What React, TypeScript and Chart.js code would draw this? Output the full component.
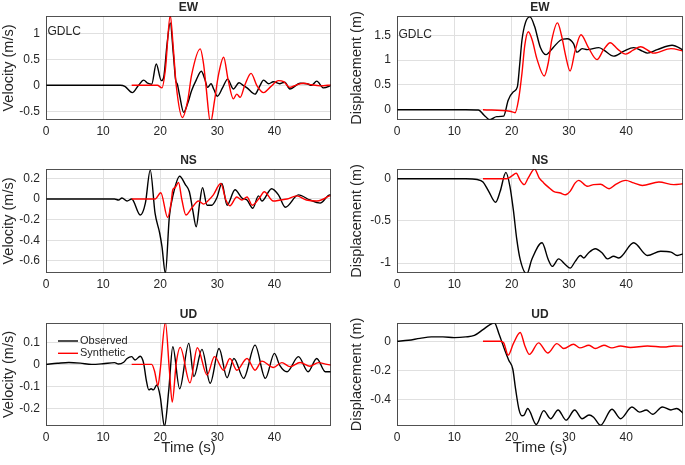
import React, { useEffect, useRef } from "react";
import { Chart, registerables } from "chart.js";

Chart.register(...registerables);

type Pt = [number, number];

// ---- shared axis data ----
const xTicks = [0, 10, 20, 30, 40];
const xMin = 0;
const xMax = 49.9;
const seriesNames = ["Observed", "Synthetic"];
const stationName = "GDLC";
const componentTitles = ["EW", "NS", "UD"];
const velLabel = "Velocity (m/s)";
const dispLabel = "Displacement (m)";
const timeLabel = "Time (s)";

// ---- EW velocity ----
const ewVelObs: Pt[] = [[0,0],[10,0],[13,0],[13.8,-0.02],[15.1,-0.14],[16.2,0.0],[17.1,0.1],[17.8,0.04],[18.5,0.02],[19.3,0.41],[20.2,0.09],[20.6,0.15],[21.2,0.8],[21.75,1.2],[22.3,0.6],[22.7,0.1],[23.0,0.02],[23.4,-0.2],[24.1,-0.52],[24.8,-0.35],[25.5,-0.1],[26.3,0.1],[27.2,0.27],[27.8,0.12],[28.3,-0.04],[28.9,0.03],[29.4,-0.08],[30.0,-0.21],[30.9,-0.05],[31.8,0.12],[32.8,-0.07],[33.8,0.05],[34.5,0.0],[35.2,-0.05],[36.6,-0.17],[37.4,-0.02],[38.1,0.1],[39.0,0.03],[39.8,0.07],[40.9,0.03],[41.8,0.06],[42.7,-0.07],[44.5,0.04],[45.7,0.03],[46.5,0.0],[47.4,0.08],[48.6,-0.05],[50,0]];
const ewVelSyn: Pt[] = [[15,0],[19.5,0],[20.3,-0.05],[20.9,0.3],[21.75,1.34],[22.3,0.7],[22.8,0.0],[23.9,-0.62],[24.8,-0.3],[25.5,0.2],[27.0,0.7],[27.6,0.4],[28.0,0.0],[28.8,-0.72],[29.5,-0.3],[30.2,0.2],[31.1,0.54],[31.9,0.1],[32.8,-0.26],[33.4,-0.17],[34.0,-0.23],[34.8,0.0],[35.9,0.23],[36.9,0.0],[38.1,-0.14],[39.3,-0.03],[40.7,0.09],[41.6,0.07],[42.7,-0.04],[43.9,0.01],[45.1,0.04],[46.5,0.01],[48.0,-0.01],[50,0.01]];
const ewVelRange = [-0.667, 1.333];
const ewVelTicks = [-0.5, 0, 0.5, 1];

// ---- EW displacement ----
const ewDispObs: Pt[] = [[0,0],[12,0],[14.2,-0.005],[15.2,-0.11],[16.2,-0.2],[17.4,-0.14],[18.6,-0.13],[19.4,0.19],[20.3,0.36],[21.0,0.46],[21.4,0.9],[21.8,1.4],[22.4,1.75],[23.2,1.87],[24.0,1.68],[25.0,1.26],[26.0,1.11],[27.3,1.26],[28.5,1.4],[29.7,1.43],[30.8,1.33],[31.4,1.16],[32.3,1.23],[33.2,1.21],[35.2,1.25],[36.1,1.2],[37.8,1.08],[39.6,1.18],[41.3,1.25],[42.8,1.18],[43.7,1.14],[45.4,1.21],[48.0,1.3],[50,1.2]];
const ewDispSyn: Pt[] = [[15,0],[19.7,-0.03],[20.6,-0.06],[21.2,0.2],[21.8,0.73],[22.3,1.3],[22.9,1.57],[23.6,1.4],[24.4,1.03],[25.7,0.68],[26.4,0.95],[27.0,1.4],[28.0,1.75],[28.7,1.5],[29.4,1.1],[30.2,0.78],[31.1,1.2],[32.1,1.51],[33.4,1.25],[34.9,1.01],[36.0,1.2],[37.2,1.35],[38.5,1.22],[39.9,1.12],[41.2,1.2],[42.5,1.27],[44.8,1.14],[47.8,1.23],[50,1.18]];
const ewDispRange = [-0.207, 1.888];
const ewDispTicks = [0, 0.5, 1, 1.5];

// ---- NS velocity ----
const nsVelObs: Pt[] = [[0,0],[12,0],[12.7,-0.01],[13.3,0.01],[14.2,-0.02],[15.0,0.0],[16.5,-0.155],[17.4,-0.04],[18.25,0.28],[19.1,-0.14],[19.9,-0.33],[20.3,-0.46],[20.9,-0.72],[21.6,-0.17],[22.3,0.05],[23.4,0.22],[24.4,0.14],[25.1,0.07],[25.7,-0.11],[26.3,-0.27],[26.9,-0.04],[27.4,0.11],[28.2,-0.06],[29.0,-0.06],[29.9,0.01],[30.8,0.15],[31.7,-0.06],[33.1,0.09],[34.3,0.01],[35.2,-0.01],[36.2,-0.09],[37.2,0.03],[37.8,-0.02],[39.5,0.1],[40.7,0.04],[41.9,-0.08],[44.2,0.04],[46.2,-0.01],[48.0,-0.04],[49.7,0.04],[50,0.035]];
const nsVelSyn: Pt[] = [[15,0],[19.1,0],[20.1,0.06],[21.3,-0.18],[21.9,-0.04],[22.2,0.09],[22.6,0.11],[23.2,0.16],[23.8,-0.01],[24.5,-0.155],[25.5,-0.09],[26.7,-0.02],[27.6,-0.05],[28.5,-0.01],[29.3,0.04],[30.6,0.15],[31.5,-0.01],[32.2,-0.065],[33.4,0.02],[34.3,-0.01],[35.2,0.02],[36.1,-0.06],[37.5,0.02],[38.2,0.07],[39.8,-0.02],[41.0,-0.01],[42.2,0.0],[43.9,0.03],[45.6,-0.01],[47.4,-0.02],[48.6,0],[49.7,0.03],[50,0.03]];
const nsVelRange = [-0.718, 0.291];
const nsVelTicks = [-0.6, -0.4, -0.2, 0, 0.2];

// ---- NS displacement ----
const nsDispObs: Pt[] = [[0,0],[10,0],[12,0],[14,-0.01],[15,-0.04],[16,-0.15],[17.2,-0.28],[18,-0.15],[19,0.075],[19.7,-0.09],[20.3,-0.37],[20.9,-0.72],[21.5,-0.96],[22.65,-1.13],[23.5,-0.96],[25.3,-0.76],[26.4,-0.96],[27.1,-1.04],[28.2,-0.95],[29.4,-1.02],[30.2,-1.06],[31.1,-0.98],[32,-0.91],[32.6,-0.94],[33.4,-0.88],[34.6,-0.83],[35.8,-0.88],[36.7,-0.95],[37.8,-0.92],[38.7,-0.94],[41.3,-0.76],[43.7,-0.91],[46,-0.86],[47.8,-0.87],[48.9,-0.91],[50,-0.89]];
const nsDispSyn: Pt[] = [[15,0],[19.1,0],[20,0.03],[20.8,0.065],[21.5,-0.02],[22.2,-0.07],[22.9,0.01],[24,0.115],[24.8,0.01],[25.6,-0.05],[26.4,-0.1],[27.3,-0.15],[28.5,-0.17],[29.4,-0.19],[30.2,-0.15],[31.1,-0.05],[31.7,-0.02],[33.2,-0.09],[34.3,-0.07],[35.5,-0.065],[37,-0.12],[38.1,-0.07],[39.9,-0.02],[41.3,-0.05],[42.8,-0.08],[45.7,-0.04],[48.3,-0.07],[50,-0.06]];
const nsDispRange = [-1.118, 0.115];
const nsDispTicks = [-1, -0.5, 0];

// ---- UD velocity ----
const udVelObs: Pt[] = [[0,0],[2,0.005],[4,0.009],[6,0.006],[8,0.0],[10,0.003],[12,0.008],[12.7,0.002],[13.6,0.01],[14.2,0.027],[15,0.035],[15.6,0.02],[16.5,0.037],[17.1,0.005],[17.55,-0.07],[18,-0.115],[18.4,-0.11],[18.8,-0.115],[19.4,-0.093],[20,-0.145],[20.75,-0.28],[21.5,-0.115],[22.2,0.08],[23.4,-0.11],[25,0.095],[25.9,-0.055],[27.3,0.068],[28.75,-0.085],[30.3,0.072],[31.7,-0.06],[32.9,0.027],[34.6,-0.063],[36.6,0.087],[38.4,-0.063],[40,0.05],[40.9,-0.003],[42.2,-0.033],[44.2,0.035],[45.9,-0.033],[47.4,0.027],[48.9,-0.033],[50,-0.033]];
const udVelSyn: Pt[] = [[15,0],[18.5,0],[19.0,-0.03],[19.6,-0.096],[20,-0.025],[20.9,0.19],[21.6,-0.025],[22.1,-0.17],[22.8,0.005],[23.5,0.077],[25.2,-0.083],[26.5,0.075],[28.2,-0.048],[29.5,0.035],[31.1,-0.026],[32.2,0.027],[33.4,-0.026],[35.2,0.027],[36.6,-0.026],[37.8,0.015],[39.8,-0.014],[41.3,0.008],[42.7,-0.01],[44.5,0.009],[46.2,-0.008],[47.7,0.008],[49.2,0],[50,-0.003]];
const udVelRange = [-0.278, 0.187];
const udVelTicks = [-0.2, -0.1, 0, 0.1];

// ---- UD displacement ----
const udDispObs: Pt[] = [[0,0],[2,0.007],[4,0.02],[6,0.03],[8,0.03],[10,0.025],[12,0.03],[13.5,0.04],[15,0.08],[16.3,0.116],[17,0.127],[17.8,0.05],[18.8,-0.06],[19.5,-0.13],[20.2,-0.19],[20.7,-0.33],[21.3,-0.47],[21.8,-0.51],[22.2,-0.505],[22.8,-0.46],[24.3,-0.57],[25.6,-0.475],[26.8,-0.53],[28.1,-0.47],[29.5,-0.54],[31,-0.47],[32.3,-0.53],[33.5,-0.505],[34.3,-0.52],[35.5,-0.575],[37.5,-0.465],[39,-0.53],[41,-0.45],[42.3,-0.485],[43.5,-0.47],[44.6,-0.5],[46.3,-0.45],[47.8,-0.47],[48.8,-0.46],[50,-0.495]];
const udDispSyn: Pt[] = [[15,0],[18,0],[18.6,-0.01],[19.4,-0.095],[20.3,-0.016],[21.5,0.06],[22.3,-0.03],[23.1,-0.09],[24.7,-0.011],[26.3,-0.08],[27.9,-0.016],[29.1,-0.05],[30.8,-0.02],[31.9,-0.045],[33.5,-0.027],[34.6,-0.05],[36.1,-0.027],[37.5,-0.045],[39,-0.032],[40.7,-0.043],[43.7,-0.032],[46.6,-0.039],[48.3,-0.032],[50,-0.034]];
const udDispRange = [-0.58, 0.125];
const udDispTicks = [-0.4, -0.2, 0];

// ---- styling ----
const FONT = '"Liberation Sans", Arial, Helvetica, sans-serif';
const TEXT = "#262626";
const GRID = "#e0e0e0";
const OBS_COLOR = "#000000";
const SYN_COLOR = "#ff0000";

interface Panel {
  title: string;
  yLabel: string;
  obs: Pt[];
  syn: Pt[];
  range: number[];
  yTicks: number[];
  station?: boolean;
  legend?: boolean;
  xLabel?: boolean;
  left: number; top: number; width: number; height: number;
  padTop: number; padRight: number; yAxisW: number; xAxisH: number;
  yTitlePad: number; stationDy: number;
}

const colL = { left: 0, width: 340, padRight: 9, yAxisW: 46, yTitlePad: 0 };
const colR = { left: 340, width: 345, padRight: 2, yAxisW: 57, yTitlePad: 8 };
const row1 = { top: 0, height: 150, padTop: 16, xAxisH: 30 };
const row2 = { top: 150, height: 150, padTop: 19, xAxisH: 27 };
const row3 = { top: 300, height: 165, padTop: 23, xAxisH: 39 };

const panels: Panel[] = [
  { title: componentTitles[0], yLabel: velLabel, obs: ewVelObs, syn: ewVelSyn, range: ewVelRange, yTicks: ewVelTicks, station: true, ...colL, ...row1, stationDy: 16 },
  { title: componentTitles[0], yLabel: dispLabel, obs: ewDispObs, syn: ewDispSyn, range: ewDispRange, yTicks: ewDispTicks, station: true, ...colR, ...row1, stationDy: 19 },
  { title: componentTitles[1], yLabel: velLabel, obs: nsVelObs, syn: nsVelSyn, range: nsVelRange, yTicks: nsVelTicks, ...colL, ...row2, stationDy: 0 },
  { title: componentTitles[1], yLabel: dispLabel, obs: nsDispObs, syn: nsDispSyn, range: nsDispRange, yTicks: nsDispTicks, ...colR, ...row2, stationDy: 0 },
  { title: componentTitles[2], yLabel: velLabel, obs: udVelObs, syn: udVelSyn, range: udVelRange, yTicks: udVelTicks, legend: true, xLabel: true, ...colL, ...row3, stationDy: 0 },
  { title: componentTitles[2], yLabel: dispLabel, obs: udDispObs, syn: udDispSyn, range: udDispRange, yTicks: udDispTicks, xLabel: true, ...colR, ...row3, stationDy: 0 },
];

const decorPlugin = {
  id: "decor",
  afterDatasetsDraw(chart: any, _args: any, opts: any) {
    const { ctx, chartArea: a } = chart;
    ctx.save();
    ctx.strokeStyle = "rgba(38,38,38,0.8)";
    ctx.lineWidth = 1;
    ctx.strokeRect(a.left + 0.5, a.top + 0.5, a.right - a.left - 1, a.bottom - a.top - 1);
    ctx.fillStyle = TEXT;
    ctx.font = `bold 12px ${FONT}`;
    ctx.textAlign = "center";
    ctx.textBaseline = "middle";
    ctx.fillText(opts.title, (a.left + a.right) / 2, a.top - 8.5);
    if (opts.station) {
      ctx.font = `12px ${FONT}`;
      ctx.textAlign = "left";
      ctx.fillText(stationName, a.left + 1.5, a.top + opts.stationDy);
    }
    if (opts.legend) {
      ctx.font = `11px ${FONT}`;
      ctx.textAlign = "left";
      chart.data.datasets.forEach((ds: any, i: number) => {
        const y = a.top + 18 + i * 12.3;
        ctx.strokeStyle = ds.borderColor;
        ctx.lineWidth = 1.4;
        ctx.beginPath();
        ctx.moveTo(a.left + 12, y);
        ctx.lineTo(a.left + 32, y);
        ctx.stroke();
        ctx.fillStyle = TEXT;
        ctx.fillText(ds.label, a.left + 34, y);
      });
    }
    ctx.restore();
  },
};

function PanelChart({ p }: { p: Panel }) {
  const ref = useRef<HTMLCanvasElement | null>(null);
  useEffect(() => {
    if (!ref.current) return;
    const chart = new Chart(ref.current, {
      type: "line",
      data: {
        datasets: [
          {
            label: seriesNames[0],
            data: p.obs.map(([x, y]) => ({ x, y })),
            borderColor: OBS_COLOR,
            borderWidth: 1.4,
            pointRadius: 0,
            cubicInterpolationMode: "monotone",
            fill: false,
            order: 1,
          },
          {
            label: seriesNames[1],
            data: p.syn.map(([x, y]) => ({ x, y })),
            borderColor: SYN_COLOR,
            borderWidth: 1.4,
            pointRadius: 0,
            cubicInterpolationMode: "monotone",
            fill: false,
            order: 0,
          },
        ],
      },
      options: {
        animation: false,
        responsive: false,
        devicePixelRatio: 1,
        layout: { padding: { left: 0, top: p.padTop, right: p.padRight, bottom: 0 } },
        plugins: {
          legend: { display: false },
          tooltip: { enabled: false },
          title: { display: false },
          decor: { title: p.title, station: !!p.station, legend: !!p.legend, stationDy: p.stationDy },
        } as any,
        scales: {
          x: {
            type: "linear",
            min: xMin,
            max: xMax,
            afterBuildTicks: (s: any) => {
              s.ticks = xTicks.map((v) => ({ value: v }));
            },
            afterFit: (s: any) => {
              s.height = p.xAxisH;
            },
            grid: { color: GRID, lineWidth: 1, drawTicks: false },
            border: { display: false },
            ticks: {
              autoSkip: false,
              maxRotation: 0,
              padding: 4,
              color: TEXT,
              font: { family: FONT, size: 12 },
              callback: (v: any) => String(v),
            },
            title: {
              display: !!p.xLabel,
              text: timeLabel,
              color: TEXT,
              font: { family: FONT, size: 15 },
              padding: { top: 0, bottom: 8 },
            },
          },
          y: {
            type: "linear",
            min: p.range[0],
            max: p.range[1],
            afterBuildTicks: (s: any) => {
              s.ticks = p.yTicks.map((v) => ({ value: v }));
            },
            afterFit: (s: any) => {
              s.width = p.yAxisW;
            },
            grid: { color: GRID, lineWidth: 1, drawTicks: false },
            border: { display: false },
            ticks: {
              autoSkip: false,
              padding: 6,
              color: TEXT,
              font: { family: FONT, size: 12 },
              callback: (v: any) => String(v),
            },
            title: {
              display: true,
              text: p.yLabel,
              color: TEXT,
              font: { family: FONT, size: 14.5 },
              padding: { top: p.yTitlePad, bottom: 0 },
            },
          },
        },
      },
      plugins: [decorPlugin as any],
    });
    return () => chart.destroy();
  }, [p]);
  return (
    <canvas
      ref={ref}
      width={p.width}
      height={p.height}
      style={{ position: "absolute", left: p.left, top: p.top, width: p.width, height: p.height }}
    />
  );
}

export default function App() {
  return (
    <div style={{ position: "absolute", left: 0, top: 0, width: 685, height: 465, background: "#fff" }}>
      {panels.map((p, i) => (
        <PanelChart key={i} p={p} />
      ))}
    </div>
  );
}
